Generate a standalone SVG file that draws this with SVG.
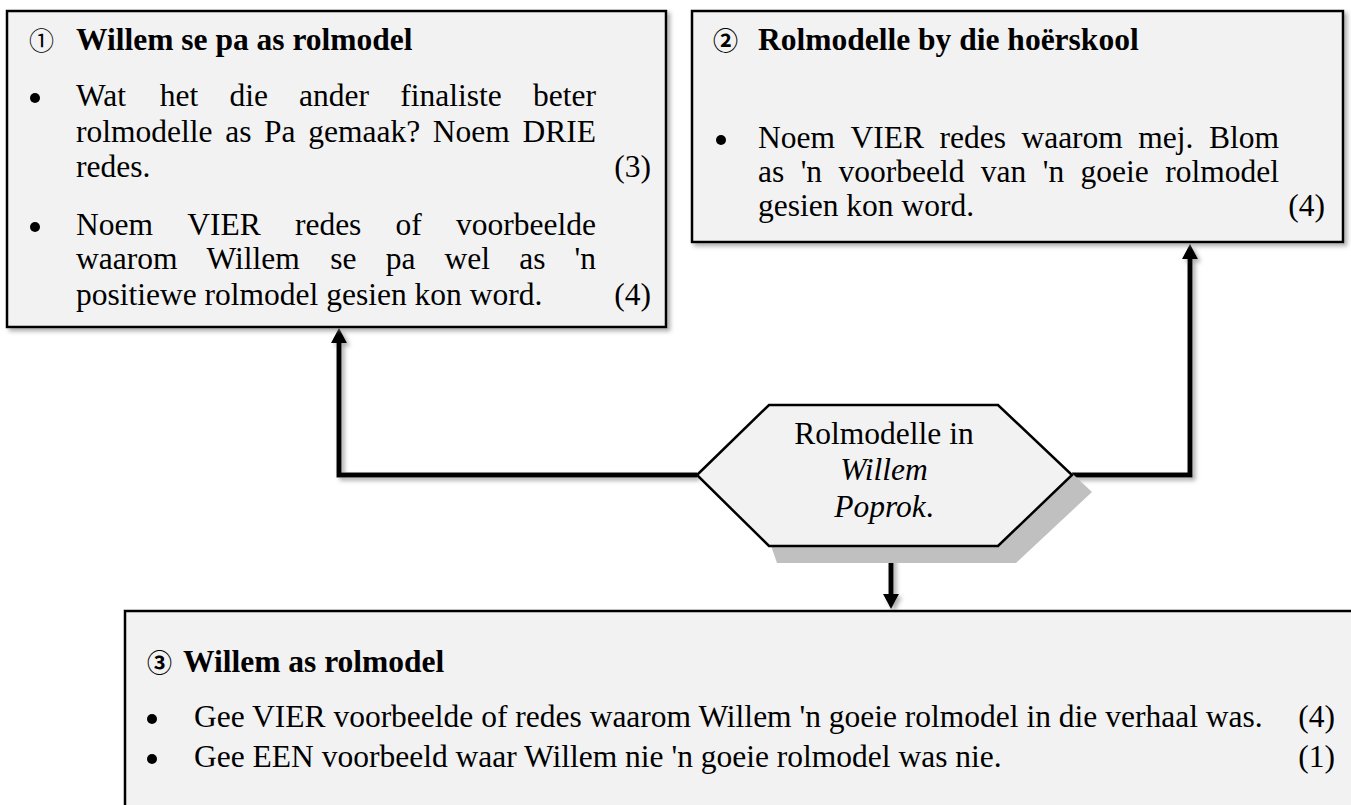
<svg xmlns="http://www.w3.org/2000/svg" width="1351" height="805" viewBox="0 0 1351 805">
<defs>
<style>
.box{fill:#f2f2f2;stroke:#000;stroke-width:2.5}
.t{font-family:"Liberation Serif","Times New Roman",serif;font-size:31.5px;fill:#000}
.b{font-weight:bold}
.num{font-family:"Noto Sans CJK JP","DejaVu Sans",sans-serif;font-size:25px;fill:#000}
.conn{fill:none;stroke:#000;stroke-width:5;stroke-linejoin:miter}
.bul{fill:#000}
</style>
<filter id="sh" x="-5%" y="-5%" width="112%" height="115%">
<feDropShadow dx="3" dy="3" stdDeviation="2" flood-color="#777" flood-opacity="0.6"/>
</filter>
<marker id="ah" markerUnits="userSpaceOnUse" markerWidth="16" markerHeight="16" refX="0" refY="8" orient="auto">
<path d="M0,0 L15,8 L0,16 z" fill="#000"/>
</marker>
</defs>
<rect width="1351" height="805" fill="#fff"/>

<g id="connectors" filter="url(#sh)">
<path class="conn" d="M697,475 H339 V343" marker-end="url(#ah)"/>
<path class="conn" d="M1072,475 H1190 V259" marker-end="url(#ah)"/>
<path class="conn" d="M891,546 V594" marker-end="url(#ah)"/>
</g>

<g id="node1">
<rect class="box" x="7" y="11" width="659" height="316" filter="url(#sh)"/>
<text class="num" x="29" y="50">①</text>
<text class="t b" x="76" y="50">Willem se pa as rolmodel</text>
<circle class="bul" cx="35" cy="98" r="5"/>
<text class="t" y="106"><tspan x="76">Wat</tspan><tspan x="159.7">het</tspan><tspan x="229.41">die</tspan><tspan x="299.12">ander</tspan><tspan x="400.3">finaliste</tspan><tspan x="533.01">beter</tspan></text>
<text class="t" y="142"><tspan x="76">rolmodelle</tspan><tspan x="225.16">as</tspan><tspan x="264.07">Pa</tspan><tspan x="308.24">gemaak?</tspan><tspan x="432.86">Noem</tspan><tspan x="522.52">DRIE</tspan></text>
<text class="t" x="76" y="177">redes.</text>
<text class="t" x="651" y="177" text-anchor="end">(3)</text>
<circle class="bul" cx="35" cy="227" r="5"/>
<text class="t" y="235"><tspan x="76">Noem</tspan><tspan x="187.21">VIER</tspan><tspan x="294.92">redes</tspan><tspan x="395.61">of</tspan><tspan x="456.07">voorbeelde</tspan></text>
<text class="t" y="269"><tspan x="76">waarom</tspan><tspan x="206.61">Willem</tspan><tspan x="330.26">se</tspan><tspan x="385.65">pa</tspan><tspan x="444.54">wel</tspan><tspan x="519.18">as</tspan><tspan x="574.57">'n</tspan></text>
<text class="t" x="76" y="305">positiewe rolmodel gesien kon word.</text>
<text class="t" x="651" y="305" text-anchor="end">(4)</text>
</g>

<g id="node2">
<rect class="box" x="692" y="11" width="651" height="231" filter="url(#sh)"/>
<text class="num b" x="713" y="50">②</text>
<text class="t b" x="758" y="50">Rolmodelle by die hoërskool</text>
<circle class="bul" cx="721" cy="140" r="5"/>
<text class="t" y="148"><tspan x="758">Noem</tspan><tspan x="850.48">VIER</tspan><tspan x="939.46">redes</tspan><tspan x="1021.42">waarom</tspan><tspan x="1138.37">mej.</tspan><tspan x="1208.99">Blom</tspan></text>
<text class="t" y="182"><tspan x="758">as</tspan><tspan x="800.65">'n</tspan><tspan x="838.48">voorbeeld</tspan><tspan x="980.86">van</tspan><tspan x="1042.76">'n</tspan><tspan x="1080.59">goeie</tspan><tspan x="1165.23">rolmodel</tspan></text>
<text class="t" x="758" y="216">gesien kon word.</text>
<text class="t" x="1325" y="216" text-anchor="end">(4)</text>
</g>

<g id="node-center">
<polygon points="769,540 777,563 1016,563 1092,492 1010,415 775,415" fill="#c0c0c0"/>
<polygon class="box" points="697,475 769,405 998,405 1072,475 998,546 769,546"/>
<text class="t" x="884" y="444" text-anchor="middle">Rolmodelle in</text>
<text class="t" x="884" y="480" text-anchor="middle" font-style="italic">Willem</text>
<text class="t" x="884" y="517" text-anchor="middle"><tspan font-style="italic">Poprok</tspan>.</text>
</g>

<g id="node3">
<rect class="box" x="125" y="611" width="1250" height="220" filter="url(#sh)"/>
<text class="num b" x="147" y="672">③</text>
<text class="t b" x="183" y="672">Willem as rolmodel</text>
<circle class="bul" cx="152" cy="719" r="5"/>
<text class="t" x="194" y="727">Gee VIER voorbeelde of redes waarom Willem 'n goeie rolmodel in die verhaal was.</text>
<text class="t" x="1335" y="727" text-anchor="end">(4)</text>
<circle class="bul" cx="152" cy="759" r="5"/>
<text class="t" x="194" y="767">Gee EEN voorbeeld waar Willem nie 'n goeie rolmodel was nie.</text>
<text class="t" x="1335" y="767" text-anchor="end">(1)</text>
</g>
</svg>
